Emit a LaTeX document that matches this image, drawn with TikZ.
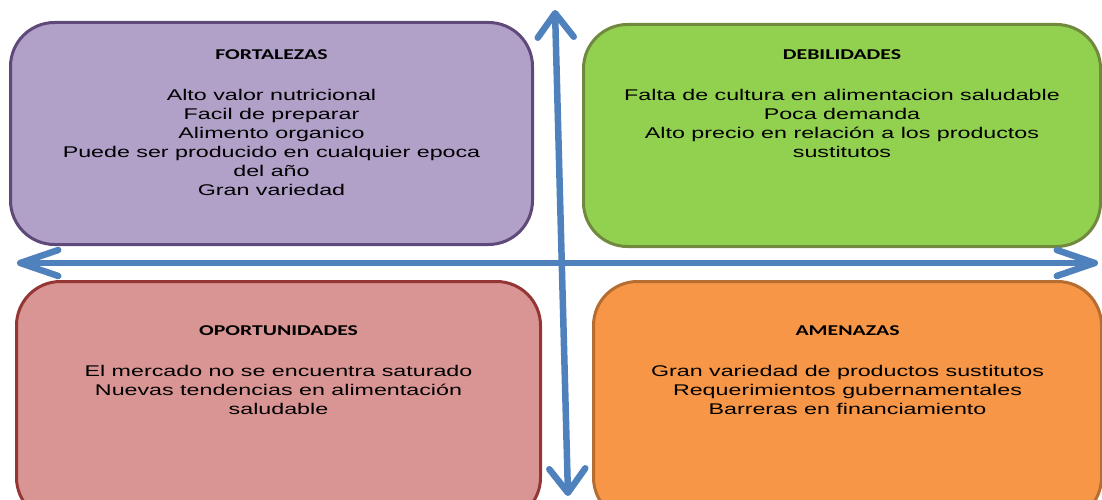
\documentclass[tikz,border=0pt]{standalone}
\usepackage{fontspec}
\newfontfamily\bodyfont[FakeStretch=1.5]{Liberation Sans}
\newfontfamily\headfont[FakeStretch=1.45]{Carlito}
\usetikzlibrary{positioning, arrows.meta}
\definecolor{fortfill}{HTML}{B1A0C7}
\definecolor{fortline}{HTML}{5F497A}
\definecolor{debfill}{HTML}{92D050}
\definecolor{debline}{HTML}{71893F}
\definecolor{opofill}{HTML}{D99594}
\definecolor{opoline}{HTML}{943634}
\definecolor{amefill}{HTML}{F79646}
\definecolor{ameline}{HTML}{B66D31}
\definecolor{axisblue}{HTML}{4F81BD}
\tikzset{
    x=1pt, y=-1pt, % one unit is one pixel of the picture
    quad/.style={draw, line width=3pt, rounded corners=44pt, anchor=north west,
        minimum width=#1, inner sep=0pt}, % the four rounded boxes
    head/.style={font=\headfont\bfseries\fontsize{15}{18}\selectfont, inner sep=0pt},
    body/.style={align=center, font=\bodyfont\fontsize{15.5}{19}\selectfont, inner sep=0pt},
    axis/.style={draw=axisblue, line width=6.5pt, line cap=round},
    hbarb/.style={{Straight Barb[length=38pt,width=26pt,round]}-{Straight Barb[length=38pt,width=26pt,round]}},
    vbarb/.style={{Straight Barb[length=24pt,width=36pt,round]}-{Straight Barb[length=24pt,width=36pt,round]}},
}
\begin{document}
\begin{tikzpicture}
    \useasboundingbox (0,0) rectangle (1102,500);
    \clip (0,0) rectangle (1102,500);

    % quadrants
    \node[quad=522pt, minimum height=222pt, fill=fortfill, draw=fortline] (F) at (9,21) {};
    \node[quad=517pt, minimum height=222pt, fill=debfill, draw=debline] (D) at (582,23) {};
    \node[quad=524pt, minimum height=240pt, fill=opofill, draw=opoline] (O) at (15,280) {};
    \node[quad=508pt, minimum height=240pt, fill=amefill, draw=ameline] (A) at (592,280) {};

    % titles
    \node[head, below=28pt of F.north] (Fh) {FORTALEZAS};
    \node[head, below=26pt of D.north] (Dh) {DEBILIDADES};
    \node[head, below=45pt of O.north] (Oh) {OPORTUNIDADES};
    \node[head, below=45pt of A.north] (Ah) {AMENAZAS};

    % contents
    \node[body, below=30pt of Fh] (Fb) {Alto valor nutricional\\Facil de preparar\\Alimento organico\\Puede ser producido en cualquier epoca\\del año\\Gran variedad};
    \node[body, below=30pt of Dh] (Db) {Falta de cultura en alimentacion saludable\\Poca demanda\\Alto precio en relación a los productos\\sustitutos};
    \node[body, below=30pt of Oh] (Ob) {El mercado no se encuentra saturado\\Nuevas tendencias en alimentación\\saludable};
    \node[body, below=30pt of Ah] (Ab) {Gran variedad de productos sustitutos\\Requerimientos gubernamentales\\Barreras en financiamiento};

    % axes
    \coordinate (west) at (17,263);
    \coordinate (east) at (1098,263);
    \coordinate (north) at (555,10);
    \coordinate (south) at (568,496);
    \draw[axis, hbarb] (west) -- (east);
    \draw[axis, vbarb] (south) -- (north);
\end{tikzpicture}
\end{document}
